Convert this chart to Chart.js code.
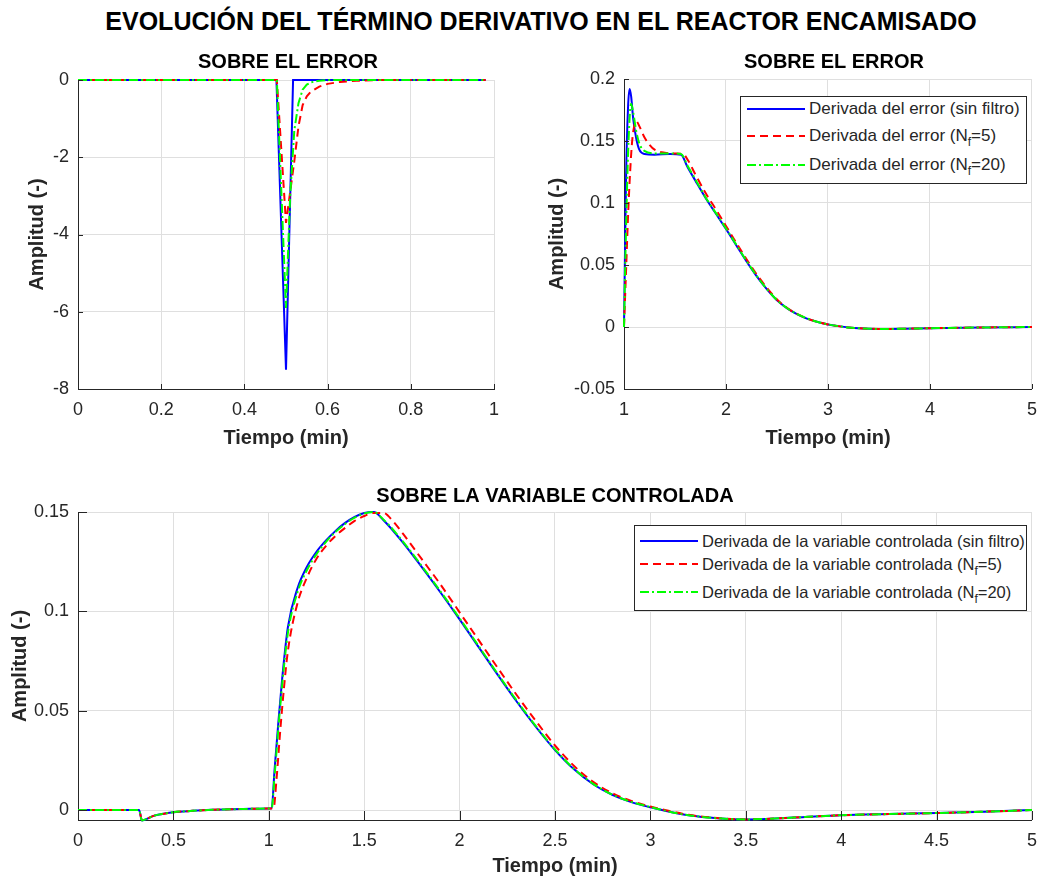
<!DOCTYPE html>
<html>
<head>
<meta charset="utf-8">
<script src="https://cdn.jsdelivr.net/npm/chart.js@4.4.1/dist/chart.umd.min.js"></script>
<style>
  body { margin: 0; width: 1047px; height: 876px; overflow: hidden; background: #fff;
         position: relative; font-family: "Liberation Sans", Arial, sans-serif; }
  canvas { position: absolute; }
  #mainTitle { position: absolute; left: 0; width: 1082px; top: 7px; text-align: center;
               font-weight: bold; font-size: 25px; line-height: 29px; color: #000; }
  .legend { position: absolute; border: 1px solid #262626; background: #fff; }
  .legend .row { position: absolute; height: 20px; white-space: nowrap; }
  .legend svg { position: absolute; top: 7px; }
  .legend span { position: absolute; font-size: 17px; line-height: 20px; color: #262626; }
  .legend.small span { font-size: 16.5px; }
  .legend sub { font-size: 12px; vertical-align: -5px; line-height: 0; }
</style>
</head>
<body>
<div id="mainTitle">EVOLUCIÓN DEL TÉRMINO DERIVATIVO EN EL REACTOR ENCAMISADO</div>
<canvas id="c1" width="514" height="410" style="left:0;top:40px"></canvas>
<canvas id="c2" width="527" height="410" style="left:520px;top:40px"></canvas>
<canvas id="c3" width="1047" height="408" style="left:0;top:470px"></canvas>

<div class="legend" style="left:740px;top:96px;width:285px;height:86px">
  <div class="row" style="top:2px;left:6px"><svg width="58" height="6"><line x1="0" y1="3" x2="58" y2="3" stroke="#0000ff" stroke-width="2"/></svg><span style="left:62px">Derivada del error (sin filtro)</span></div>
  <div class="row" style="top:29px;left:6px"><svg width="58" height="6"><line x1="0" y1="3" x2="58" y2="3" stroke="#ff0000" stroke-width="2" stroke-dasharray="8,5"/></svg><span style="left:62px">Derivada del error (N<sub>f</sub>=5)</span></div>
  <div class="row" style="top:58px;left:6px"><svg width="58" height="6"><line x1="0" y1="3" x2="58" y2="3" stroke="#00ff00" stroke-width="2" stroke-dasharray="9,3,2,3"/></svg><span style="left:62px">Derivada del error (N<sub>f</sub>=20)</span></div>
</div>

<div class="legend small" style="left:634px;top:525px;width:391px;height:84px">
  <div class="row" style="top:5px;left:5px"><svg width="58" height="6"><line x1="0" y1="3" x2="58" y2="3" stroke="#0000ff" stroke-width="2"/></svg><span style="left:62px">Derivada de la variable controlada (sin filtro)</span></div>
  <div class="row" style="top:28px;left:5px"><svg width="58" height="6"><line x1="0" y1="3" x2="58" y2="3" stroke="#ff0000" stroke-width="2" stroke-dasharray="8,5"/></svg><span style="left:62px">Derivada de la variable controlada (N<sub>f</sub>=5)</span></div>
  <div class="row" style="top:56px;left:5px"><svg width="58" height="6"><line x1="0" y1="3" x2="58" y2="3" stroke="#00ff00" stroke-width="2" stroke-dasharray="9,3,2,3"/></svg><span style="left:62px">Derivada de la variable controlada (N<sub>f</sub>=20)</span></div>
</div>

<script>
// --- panel 1: derivada del error, 0..1 min
var tErr1Blue = [0, 0.477, 0.5, 0.517, 0.98];
var err1Blue  = [0, 0, -7.5, 0, 0];
var tErr1Red  = [0, 0.478, 0.5, 0.51, 0.52, 0.53, 0.54, 0.55, 0.56, 0.58, 0.6, 0.63, 0.67, 0.72, 0.98];
var err1Red   = [0, 0, -3.7, -2.9, -2.1, -1.2, -0.65, -0.42, -0.3, -0.17, -0.1, -0.05, -0.02, 0, 0];
var tErr1Green = [0, 0.478, 0.5, 0.51, 0.52, 0.53, 0.54, 0.55, 0.56, 0.58, 0.6, 0.98];
var err1Green  = [0, 0, -5.9, -3.0, -1.3, -0.6, -0.25, -0.12, -0.06, -0.02, 0, 0];

// --- panel 2: derivada del error, 1..5 min
var tErr2Blue = [1, 1.02, 1.04, 1.055, 1.07, 1.09, 1.12, 1.15, 1.2, 1.3, 1.45, 1.56, 1.62, 1.7, 1.8, 1.9, 2.0, 2.1, 2.2, 2.3,
                 2.4, 2.5, 2.6, 2.7, 2.8, 2.9, 3.0, 3.1, 3.2, 3.35, 3.5, 3.75, 4.0, 4.5, 5];
var err2Blue  = [0, 0.12, 0.178, 0.192, 0.186, 0.168, 0.152, 0.143, 0.1395, 0.139, 0.1395, 0.139, 0.1295, 0.118, 0.104, 0.0915, 0.079, 0.066, 0.053, 0.041,
                 0.0305, 0.0215, 0.015, 0.0102, 0.0066, 0.004, 0.0021, 0.0007, -0.0004, -0.0012, -0.0016, -0.0014, -0.001, -0.0004, 0];
var tErr2Red  = [1, 1.02, 1.04, 1.06, 1.08, 1.1, 1.12, 1.15, 1.2, 1.25, 1.3, 1.4, 1.5, 1.58, 1.63, 1.7, 1.8, 1.9, 2.0, 2.1,
                 2.2, 2.3, 2.4, 2.5, 2.6, 2.7, 2.8, 2.9, 3.0, 3.1, 3.2, 3.35, 3.5, 3.75, 4.0, 4.5, 5];
var err2Red   = [0, 0.045, 0.09, 0.125, 0.15, 0.162, 0.166, 0.162, 0.153, 0.147, 0.143, 0.1405, 0.14, 0.1395, 0.134, 0.123, 0.108, 0.095, 0.0815, 0.068,
                 0.0548, 0.0425, 0.0317, 0.0222, 0.0153, 0.0104, 0.0067, 0.0041, 0.0021, 0.0007, -0.0004, -0.0012, -0.0016, -0.0014, -0.001, -0.0004, 0];
var tErr2Green = [1, 1.02, 1.04, 1.06, 1.07, 1.09, 1.12, 1.15, 1.2, 1.3, 1.45, 1.56, 1.62, 1.7, 1.8, 1.9, 2.0, 2.1, 2.2, 2.3,
                  2.4, 2.5, 2.6, 2.7, 2.8, 2.9, 3.0, 3.1, 3.2, 3.35, 3.5, 3.75, 4.0, 4.5, 5];
var err2Green  = [0, 0.08, 0.14, 0.175, 0.18, 0.173, 0.158, 0.148, 0.142, 0.14, 0.14, 0.1395, 0.1305, 0.119, 0.1045, 0.092, 0.0795, 0.0665, 0.0535, 0.0413,
                  0.0307, 0.0217, 0.0151, 0.0103, 0.0067, 0.004, 0.0021, 0.0007, -0.0004, -0.0012, -0.0016, -0.0014, -0.001, -0.0004, 0];

// --- panel 3: derivada de la variable controlada, 0..5 min
var tCtrl = [0, 0.32, 0.335, 0.4, 0.5, 0.6, 0.7, 0.8, 0.9, 1.0, 1.015, 1.03, 1.05, 1.07, 1.1, 1.15, 1.2, 1.25, 1.3, 1.35,
             1.4, 1.45, 1.5, 1.55, 1.6, 1.7, 1.8, 1.9, 2.0, 2.1, 2.2, 2.3, 2.4, 2.5, 2.6, 2.7, 2.8, 2.9, 3.0, 3.1,
             3.2, 3.35, 3.5, 3.75, 4.0, 4.25, 4.5, 4.75, 5.0];
var ctrlBlue = [0, 0, -0.0052, -0.0028, -0.0011, -0.0004, 0.0001, 0.0004, 0.0006, 0.0008, 0.0009, 0.02, 0.044, 0.066, 0.092, 0.1115, 0.1225, 0.13, 0.1357, 0.1405,
                0.1445, 0.1475, 0.1495, 0.15, 0.146, 0.135, 0.1225, 0.1095, 0.096, 0.082, 0.068, 0.0545, 0.0418, 0.0302, 0.0205, 0.013, 0.0077, 0.004, 0.0014, -0.0008,
                -0.0026, -0.0041, -0.0047, -0.0038, -0.0026, -0.002, -0.0015, -0.0008, 0];
var ctrlGreen = [0, 0, -0.0052, -0.0028, -0.0011, -0.0004, 0.0001, 0.0004, 0.0006, 0.0008, 0.0009, 0.017, 0.041, 0.063, 0.089, 0.1095, 0.1208, 0.1288, 0.135, 0.14,
                 0.144, 0.1472, 0.1493, 0.15, 0.1463, 0.1355, 0.123, 0.11, 0.0965, 0.0825, 0.0685, 0.055, 0.0422, 0.0305, 0.0207, 0.0132, 0.0078, 0.0041, 0.0015, -0.0008,
                 -0.0026, -0.0041, -0.0047, -0.0038, -0.0026, -0.002, -0.0015, -0.0008, 0];
var tCtrlRed = [0, 0.32, 0.335, 0.4, 0.5, 0.6, 0.7, 0.8, 0.9, 1.0, 1.025, 1.04, 1.06, 1.08, 1.1, 1.15, 1.2, 1.25, 1.3, 1.35,
                1.4, 1.45, 1.5, 1.55, 1.6, 1.65, 1.7, 1.8, 1.9, 2.0, 2.1, 2.2, 2.3, 2.4, 2.5, 2.6, 2.7, 2.8, 2.9, 3.0,
                3.1, 3.2, 3.35, 3.5, 3.75, 4.0, 4.25, 4.5, 4.75, 5.0];
var ctrlRed = [0, 0, -0.005, -0.0028, -0.0011, -0.0004, 0.0001, 0.0004, 0.0006, 0.0008, 0.0009, 0.015, 0.04, 0.062, 0.08, 0.104, 0.117, 0.1265, 0.133, 0.138,
               0.142, 0.1455, 0.148, 0.1495, 0.1495, 0.1455, 0.1395, 0.1265, 0.1135, 0.0995, 0.0855, 0.0715, 0.0578, 0.0448, 0.0325, 0.0222, 0.0142, 0.0085, 0.0046, 0.0018,
               -0.0005, -0.0024, -0.004, -0.0047, -0.0038, -0.0026, -0.002, -0.0015, -0.0008, 0];

// tick labels
var xTicks1 = [0, 0.2, 0.4, 0.6, 0.8, 1];
var yTicks1 = [-8, -6, -4, -2, 0];
var xTicks2 = [1, 2, 3, 4, 5];
var yTicks2 = [-0.05, 0, 0.05, 0.1, 0.15, 0.2];
var xTicks3 = [0, 0.5, 1, 1.5, 2, 2.5, 3, 3.5, 4, 4.5, 5];
var yTicks3 = [0, 0.05, 0.1, 0.15];

var FONT = '"Liberation Sans", Arial, sans-serif';
var AXC = '#262626';
var GRID = '#dfdfdf';

function pts(t, y) {
  return t.map(function(v, i) { return {x: v, y: y[i]}; });
}
function fmt(v) { return String(Math.round(v * 1000) / 1000); }

// subplot title, centred on the plot area
var panelTitle = {
  id: 'panelTitle',
  afterDraw: function(chart, args, opts) {
    var a = chart.chartArea, ctx = chart.ctx;
    ctx.save();
    ctx.font = 'bold 20px ' + FONT;
    ctx.fillStyle = '#000';
    ctx.textAlign = 'center';
    ctx.textBaseline = 'middle';
    ctx.fillText(opts.text, (a.left + a.right) / 2 + opts.dx, a.top - opts.dy);
    ctx.restore();
  }
};

// matlab style ticks pointing inwards
var inTicks = {
  id: 'inTicks',
  afterDatasetsDraw: function(chart, args, opts) {
    var a = chart.chartArea, ctx = chart.ctx;
    var xs = chart.scales.x, ys = chart.scales.y;
    ctx.save();
    ctx.strokeStyle = AXC;
    ctx.lineWidth = 1;
    ctx.beginPath();
    xs.ticks.forEach(function(t) {
      var p = Math.round(xs.getPixelForValue(t.value)) + 0.5;
      ctx.moveTo(p, a.bottom); ctx.lineTo(p, a.bottom - opts.len);
    });
    ys.ticks.forEach(function(t) {
      var p = Math.round(ys.getPixelForValue(t.value)) + 0.5;
      ctx.moveTo(a.left, p); ctx.lineTo(a.left + opts.len, p);
    });
    ctx.stroke();
    ctx.restore();
  }
};

function panel(id, o) {
  var smooth = o.smooth ? 'monotone' : 'default';
  return new Chart(document.getElementById(id), {
    type: 'line',
    data: {
      datasets: [
        {data: pts(o.tB, o.yB), borderColor: '#0000ff', borderWidth: 2, order: 3, cubicInterpolationMode: smooth},
        {data: pts(o.tR, o.yR), borderColor: '#ff0000', borderWidth: 2, borderDash: [8, 5], order: 2, cubicInterpolationMode: smooth},
        {data: pts(o.tG, o.yG), borderColor: '#00ff00', borderWidth: 2, borderDash: [9, 3, 2, 3], order: 1, cubicInterpolationMode: smooth}
      ]
    },
    options: {
      responsive: false,
      animation: false,
      layout: {padding: o.pad},
      elements: {point: {radius: 0}, line: {tension: 0}},
      datasets: {line: {clip: 3}},
      plugins: {
        legend: {display: false},
        tooltip: {enabled: false},
        panelTitle: {text: o.title, dy: o.titleDy, dx: o.titleDx},
        inTicks: {len: o.tickLen}
      },
      scales: {
        x: {
          type: 'linear', min: o.xMin, max: o.xMax,
          afterBuildTicks: function(s) { s.ticks = o.xTicks.map(function(v) { return {value: v}; }); },
          afterFit: function(s) { s.height = o.xH; },
          grid: {color: GRID, drawTicks: false},
          border: {color: AXC, width: 1},
          ticks: {padding: 10, color: AXC, font: {family: FONT, size: 18}, maxRotation: 0, autoSkip: false, callback: fmt},
          title: {display: true, text: 'Tiempo (min)', color: AXC, padding: 0, font: {family: FONT, size: 20, weight: 'bold'}}
        },
        y: {
          type: 'linear', min: o.yMin, max: o.yMax,
          afterBuildTicks: function(s) { s.ticks = o.yTicks.map(function(v) { return {value: v}; }); },
          afterFit: function(s) { s.width = o.yW; },
          grid: {color: GRID, drawTicks: false},
          border: {color: AXC, width: 1},
          ticks: {padding: 9, color: AXC, font: {family: FONT, size: 18}, autoSkip: false, callback: fmt},
          title: {display: true, text: 'Amplitud (-)', color: AXC, padding: {top: o.yTitlePad, bottom: 0}, font: {family: FONT, size: 20, weight: 'bold'}}
        }
      }
    },
    plugins: [panelTitle, inTicks]
  });
}

panel('c1', {
  tB: tErr1Blue, yB: err1Blue, tR: tErr1Red, yR: err1Red, tG: tErr1Green, yG: err1Green,
  xMin: 0, xMax: 1, yMin: -8, yMax: 0, xTicks: xTicks1, yTicks: yTicks1,
  pad: {top: 40, right: 20, left: 0, bottom: 0}, xH: 61, yW: 78, yTitlePad: 25,
  title: 'SOBRE EL ERROR', titleDy: 18, titleDx: 2, tickLen: 5, smooth: false
});

panel('c2', {
  tB: tErr2Blue, yB: err2Blue, tR: tErr2Red, yR: err2Red, tG: tErr2Green, yG: err2Green,
  xMin: 1, xMax: 5, yMin: -0.05, yMax: 0.2, xTicks: xTicks2, yTicks: yTicks2,
  pad: {top: 39, right: 11, left: 0, bottom: 0}, xH: 61, yW: 104, yTitlePad: 25,
  title: 'SOBRE EL ERROR', titleDy: 17, titleDx: 6, tickLen: 5, smooth: true
});

panel('c3', {
  tB: tCtrl, yB: ctrlBlue, tR: tCtrlRed, yR: ctrlRed, tG: tCtrl, yG: ctrlGreen,
  xMin: 0, xMax: 5, yMin: -0.005, yMax: 0.15, xTicks: xTicks3, yTicks: yTicks3,
  pad: {top: 42, right: 7, left: 0, bottom: 0}, xH: 58, yW: 78, yTitlePad: 8,
  title: 'SOBRE LA VARIABLE CONTROLADA', titleDy: 16, titleDx: 0, tickLen: 9, smooth: true
});
</script>
</body>
</html>
